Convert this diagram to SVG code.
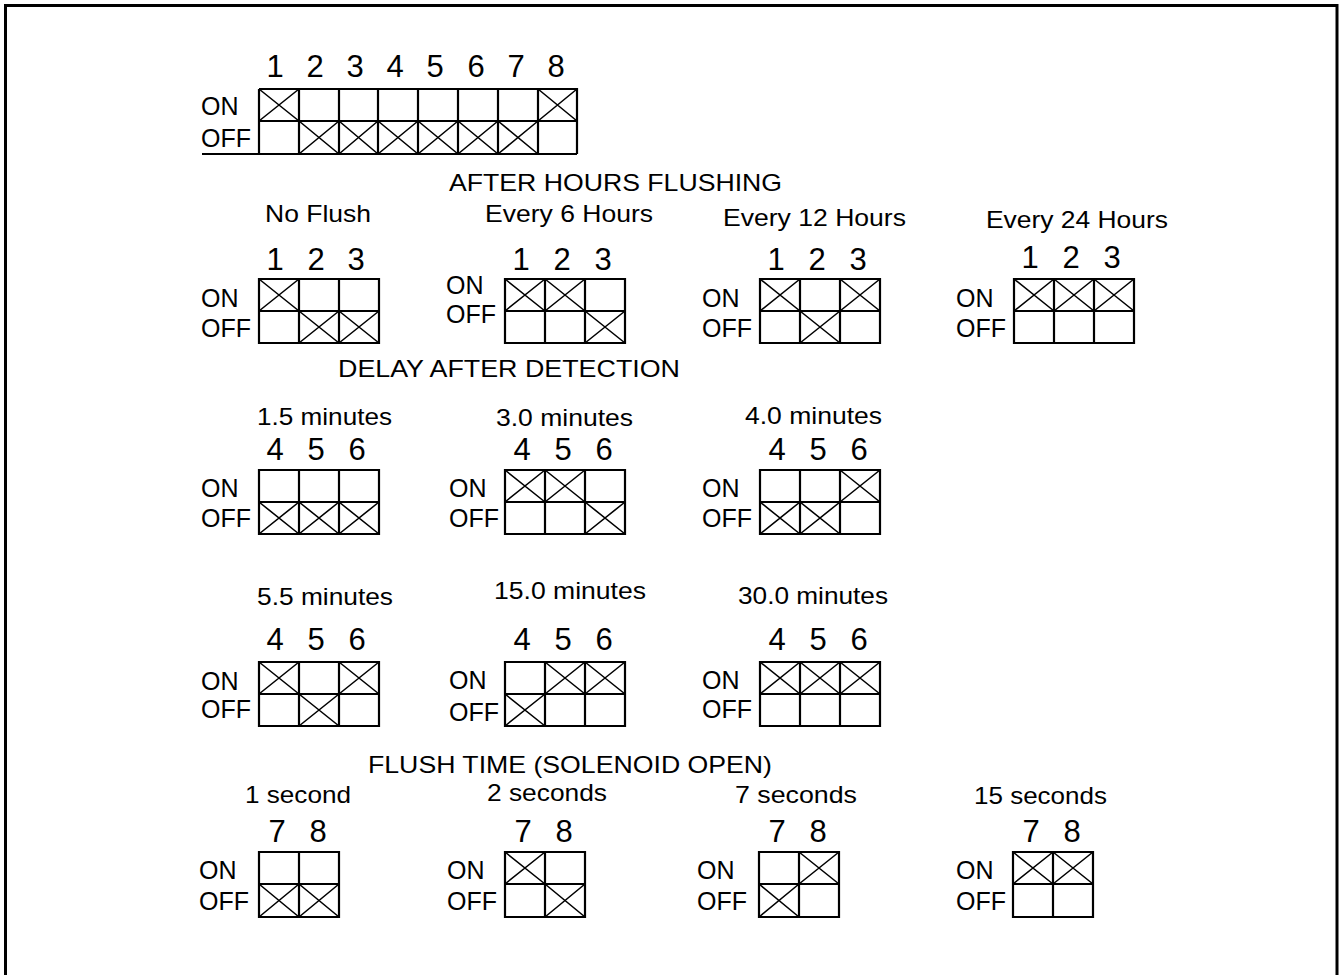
<svg xmlns="http://www.w3.org/2000/svg" width="1339" height="975" viewBox="0 0 1339 975">
<style>
text{font-family:"Liberation Sans",Arial,sans-serif;fill:#000}
.d{font-size:31px;text-anchor:middle}
.lab{font-size:24px}
.sw{font-size:25px}
.box{fill:none;stroke:#000;stroke-width:2.2}
.x{fill:none;stroke:#000;stroke-width:1.6}
</style>
<rect x="5.5" y="5.5" width="1331.5" height="985" fill="#fff" stroke="#000" stroke-width="3"/>

<g id="master">
<text class="d" x="275" y="77">1</text><text class="d" x="315" y="77">2</text><text class="d" x="355" y="77">3</text><text class="d" x="395" y="77">4</text><text class="d" x="435" y="77">5</text><text class="d" x="476" y="77">6</text><text class="d" x="516" y="77">7</text><text class="d" x="556" y="77">8</text>
<text class="sw" x="201" y="115">ON</text><text class="sw" x="201" y="147">OFF</text>
<path class="box" d="M259 89H577V154M202 154H577M259 154V89M259 121H577M299 89V154M339 89V154M378 89V154M418 89V154M458 89V154M498 89V154M538 89V154"/>
<path class="x" d="M259 89L299 121M259 121L299 89M299 121L339 154M299 154L339 121M339 121L378 154M339 154L378 121M378 121L418 154M378 154L418 121M418 121L458 154M418 154L458 121M458 121L498 154M458 154L498 121M498 121L538 154M498 154L538 121M538 89L577 121M538 121L577 89"/>
</g>

<text class="lab" x="449" y="191" textLength="333" lengthAdjust="spacingAndGlyphs">AFTER HOURS FLUSHING</text>

<g id="no-flush">
<text class="lab" x="265" y="222" textLength="106" lengthAdjust="spacingAndGlyphs">No Flush</text>
<text class="d" x="275" y="270">1</text><text class="d" x="316" y="270">2</text><text class="d" x="356" y="270">3</text>
<text class="sw" x="201" y="307">ON</text><text class="sw" x="201" y="337">OFF</text>
<path class="box" d="M259 279H379V343H259ZM259 311H379M299 279V343M339 279V343"/>
<path class="x" d="M259 279L299 311M259 311L299 279M299 311L339 343M299 343L339 311M339 311L379 343M339 343L379 311"/>
</g>

<g id="every-6">
<text class="lab" x="485" y="222" textLength="168" lengthAdjust="spacingAndGlyphs">Every 6 Hours</text>
<text class="d" x="521" y="270">1</text><text class="d" x="562" y="270">2</text><text class="d" x="603" y="270">3</text>
<text class="sw" x="446" y="294">ON</text><text class="sw" x="446" y="323">OFF</text>
<path class="box" d="M505 279H625V343H505ZM505 311H625M545 279V343M585 279V343"/>
<path class="x" d="M505 279L545 311M505 311L545 279M545 279L585 311M545 311L585 279M585 311L625 343M585 343L625 311"/>
</g>

<g id="every-12">
<text class="lab" x="723" y="226" textLength="183" lengthAdjust="spacingAndGlyphs">Every 12 Hours</text>
<text class="d" x="776" y="270">1</text><text class="d" x="817" y="270">2</text><text class="d" x="858" y="270">3</text>
<text class="sw" x="702" y="307">ON</text><text class="sw" x="702" y="337">OFF</text>
<path class="box" d="M760 279H880V343H760ZM760 311H880M800 279V343M840 279V343"/>
<path class="x" d="M760 279L800 311M760 311L800 279M840 279L880 311M840 311L880 279M800 311L840 343M800 343L840 311"/>
</g>

<g id="every-24">
<text class="lab" x="986" y="228" textLength="182" lengthAdjust="spacingAndGlyphs">Every 24 Hours</text>
<text class="d" x="1030" y="268">1</text><text class="d" x="1071" y="268">2</text><text class="d" x="1112" y="268">3</text>
<text class="sw" x="956" y="307">ON</text><text class="sw" x="956" y="337">OFF</text>
<path class="box" d="M1014 279H1134V343H1014ZM1014 311H1134M1054 279V343M1094 279V343"/>
<path class="x" d="M1014 279L1054 311M1014 311L1054 279M1054 279L1094 311M1054 311L1094 279M1094 279L1134 311M1094 311L1134 279"/>
</g>

<text class="lab" x="338" y="377" textLength="342" lengthAdjust="spacingAndGlyphs">DELAY AFTER DETECTION</text>

<g id="delay-1-5">
<text class="lab" x="257" y="425" textLength="135" lengthAdjust="spacingAndGlyphs">1.5 minutes</text>
<text class="d" x="275" y="460">4</text><text class="d" x="316" y="460">5</text><text class="d" x="357" y="460">6</text>
<text class="sw" x="201" y="497">ON</text><text class="sw" x="201" y="527">OFF</text>
<path class="box" d="M259 470H379V534H259ZM259 502H379M299 470V534M339 470V534"/>
<path class="x" d="M259 502L299 534M259 534L299 502M299 502L339 534M299 534L339 502M339 502L379 534M339 534L379 502"/>
</g>

<g id="delay-3-0">
<text class="lab" x="496" y="426" textLength="137" lengthAdjust="spacingAndGlyphs">3.0 minutes</text>
<text class="d" x="522" y="460">4</text><text class="d" x="563" y="460">5</text><text class="d" x="604" y="460">6</text>
<text class="sw" x="449" y="497">ON</text><text class="sw" x="449" y="527">OFF</text>
<path class="box" d="M505 470H625V534H505ZM505 502H625M545 470V534M585 470V534"/>
<path class="x" d="M505 470L545 502M505 502L545 470M545 470L585 502M545 502L585 470M585 502L625 534M585 534L625 502"/>
</g>

<g id="delay-4-0">
<text class="lab" x="745" y="424" textLength="137" lengthAdjust="spacingAndGlyphs">4.0 minutes</text>
<text class="d" x="777" y="460">4</text><text class="d" x="818" y="460">5</text><text class="d" x="859" y="460">6</text>
<text class="sw" x="702" y="497">ON</text><text class="sw" x="702" y="527">OFF</text>
<path class="box" d="M760 470H880V534H760ZM760 502H880M800 470V534M840 470V534"/>
<path class="x" d="M840 470L880 502M840 502L880 470M760 502L800 534M760 534L800 502M800 502L840 534M800 534L840 502"/>
</g>

<g id="delay-5-5">
<text class="lab" x="257" y="605" textLength="136" lengthAdjust="spacingAndGlyphs">5.5 minutes</text>
<text class="d" x="275" y="650">4</text><text class="d" x="316" y="650">5</text><text class="d" x="357" y="650">6</text>
<text class="sw" x="201" y="690">ON</text><text class="sw" x="201" y="718">OFF</text>
<path class="box" d="M259 662H379V726H259ZM259 694H379M299 662V726M339 662V726"/>
<path class="x" d="M259 662L299 694M259 694L299 662M339 662L379 694M339 694L379 662M299 694L339 726M299 726L339 694"/>
</g>

<g id="delay-15-0">
<text class="lab" x="494" y="599" textLength="152" lengthAdjust="spacingAndGlyphs">15.0 minutes</text>
<text class="d" x="522" y="650">4</text><text class="d" x="563" y="650">5</text><text class="d" x="604" y="650">6</text>
<text class="sw" x="449" y="689">ON</text><text class="sw" x="449" y="721">OFF</text>
<path class="box" d="M505 662H625V726H505ZM505 694H625M545 662V726M585 662V726"/>
<path class="x" d="M545 662L585 694M545 694L585 662M585 662L625 694M585 694L625 662M505 694L545 726M505 726L545 694"/>
</g>

<g id="delay-30-0">
<text class="lab" x="738" y="604" textLength="150" lengthAdjust="spacingAndGlyphs">30.0 minutes</text>
<text class="d" x="777" y="650">4</text><text class="d" x="818" y="650">5</text><text class="d" x="859" y="650">6</text>
<text class="sw" x="702" y="689">ON</text><text class="sw" x="702" y="718">OFF</text>
<path class="box" d="M760 662H880V726H760ZM760 694H880M800 662V726M840 662V726"/>
<path class="x" d="M760 662L800 694M760 694L800 662M800 662L840 694M800 694L840 662M840 662L880 694M840 694L880 662"/>
</g>

<text class="lab" x="368" y="773" textLength="404" lengthAdjust="spacingAndGlyphs">FLUSH TIME (SOLENOID OPEN)</text>

<g id="flush-1s">
<text class="lab" x="245" y="803" textLength="106" lengthAdjust="spacingAndGlyphs">1 second</text>
<text class="d" x="277" y="842">7</text><text class="d" x="318" y="842">8</text>
<text class="sw" x="199" y="879">ON</text><text class="sw" x="199" y="910">OFF</text>
<path class="box" d="M259 852H339V917H259ZM259 884H339M299 852V917"/>
<path class="x" d="M259 884L299 917M259 917L299 884M299 884L339 917M299 917L339 884"/>
</g>

<g id="flush-2s">
<text class="lab" x="487" y="801" textLength="120" lengthAdjust="spacingAndGlyphs">2 seconds</text>
<text class="d" x="523" y="842">7</text><text class="d" x="564" y="842">8</text>
<text class="sw" x="447" y="879">ON</text><text class="sw" x="447" y="910">OFF</text>
<path class="box" d="M505 852H585V917H505ZM505 884H585M545 852V917"/>
<path class="x" d="M505 852L545 884M505 884L545 852M545 884L585 917M545 917L585 884"/>
</g>

<g id="flush-7s">
<text class="lab" x="735" y="803" textLength="122" lengthAdjust="spacingAndGlyphs">7 seconds</text>
<text class="d" x="777" y="842">7</text><text class="d" x="818" y="842">8</text>
<text class="sw" x="697" y="879">ON</text><text class="sw" x="697" y="910">OFF</text>
<path class="box" d="M759 852H839V917H759ZM759 884H839M799 852V917"/>
<path class="x" d="M799 852L839 884M799 884L839 852M759 884L799 917M759 917L799 884"/>
</g>

<g id="flush-15s">
<text class="lab" x="974" y="804" textLength="133" lengthAdjust="spacingAndGlyphs">15 seconds</text>
<text class="d" x="1031" y="842">7</text><text class="d" x="1072" y="842">8</text>
<text class="sw" x="956" y="879">ON</text><text class="sw" x="956" y="910">OFF</text>
<path class="box" d="M1013 852H1093V917H1013ZM1013 884H1093M1053 852V917"/>
<path class="x" d="M1013 852L1053 884M1013 884L1053 852M1053 852L1093 884M1053 884L1093 852"/>
</g>
</svg>
